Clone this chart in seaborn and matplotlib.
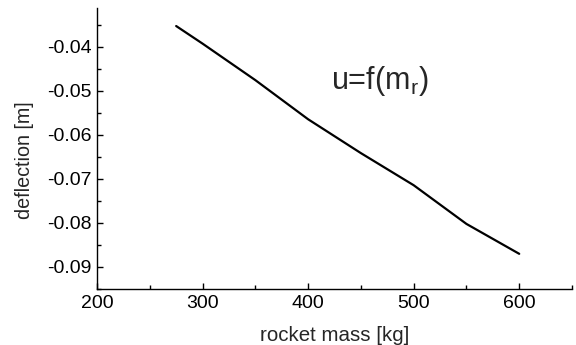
import matplotlib
matplotlib.use("Agg")
import matplotlib.pyplot as plt
import seaborn as sns
import pandas as pd
from matplotlib.ticker import MultipleLocator

mass = [275, 300, 350, 400, 450, 500, 550, 600]
deflection = [-0.0353, -0.0393, -0.0476, -0.0565, -0.0642, -0.0715, -0.0803, -0.0871]

sns.set_theme(style="ticks")
plt.rcParams['font.family'] = ['Liberation Sans', 'DejaVu Sans']

df = pd.DataFrame({"mass": mass, "deflection": deflection})
fig = plt.figure(figsize=(5.76, 3.45), dpi=100)
ax = fig.add_axes([97/576, 1-289/345, (572-97)/576, (289-8)/345])
sns.lineplot(data=df, x="mass", y="deflection", ax=ax, color="black", linewidth=1.6)
ax.set_xlim(200, 650)
ax.set_ylim(-0.0951, -0.0312)
ax.xaxis.set_major_locator(MultipleLocator(100))
ax.xaxis.set_minor_locator(MultipleLocator(50))
ax.yaxis.set_minor_locator(MultipleLocator(0.005))
ax.tick_params(which="both", direction="in", labelsize=14, colors="black", width=1, pad=4)
ax.tick_params(which="major", length=4)
ax.tick_params(which="minor", length=3)
ax.set_yticks([-0.04, -0.05, -0.06, -0.07, -0.08, -0.09])
ax.set_yticklabels(["-0.04", "-0.05", "-0.06", "-0.07", "-0.08", "-0.09"])
sns.despine(ax=ax)
for s in ["left", "bottom"]:
    ax.spines[s].set_color("black")
    ax.spines[s].set_linewidth(1)
ax.set_xlabel("rocket mass [kg]", fontsize=14.8)
ax.set_ylabel("deflection [m]", fontsize=14.2)
ax.xaxis.set_label_coords(0.5, -0.133)
ax.yaxis.set_label_coords(-0.133, 0.459)
ax.text(0.595, 0.74, r"u=f(m$_\mathregular{r}$)", transform=ax.transAxes, fontsize=22, ha="center", va="center")
fig.savefig("out.png", dpi=100)
